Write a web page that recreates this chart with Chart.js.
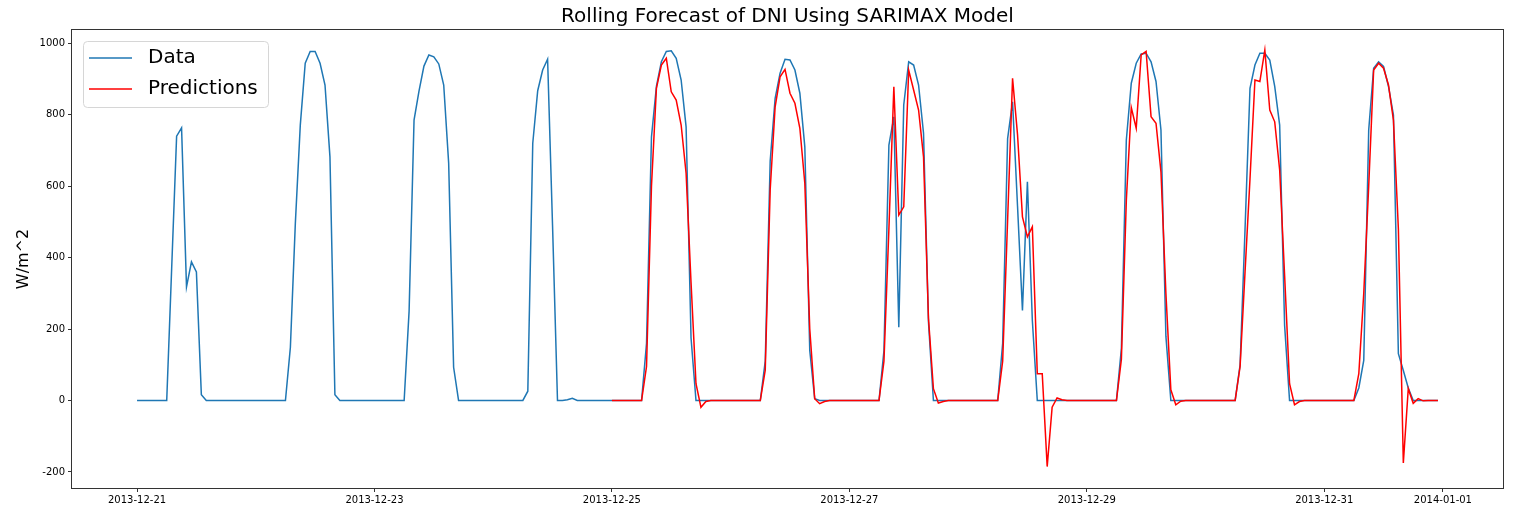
<!DOCTYPE html>
<html>
<head>
<meta charset="utf-8">
<script src="https://cdn.jsdelivr.net/npm/chart.js@4.4.1/dist/chart.umd.min.js"></script>
<style>
  html, body { margin: 0; padding: 0; background: #fff; }
  canvas { display: block; }
</style>
</head>
<body>
<canvas id="dni" width="1514" height="510"></canvas>
<script>
// hourly DNI, 2013-12-21 00:00 .. 2013-12-31 23:00 (one row per day)
const actual = [
  0,0,0,0,0,0,0,370,740,763,318,388,360,16,0,0,0,0,0,0,0,0,0,0,
  0,0,0,0,0,0,0,149,495,770,944,977,977,944,883,682,16,0,0,0,0,0,0,0,
  0,0,0,0,0,0,0,250,785,866,936,967,962,942,883,664,93,0,0,0,0,0,0,0,
  0,0,0,0,0,0,0,26,720,867,925,955,490,0,0,2,6,0,0,0,0,0,0,0,
  0,0,0,0,0,0,0,160,738,879,948,977,979,958,897,766,175,0,0,0,0,0,0,0,
  0,0,0,0,0,0,0,110,670,846,916,955,953,925,860,710,140,5,0,0,0,0,0,0,
  0,0,0,0,0,0,0,140,715,794,205,827,948,939,883,748,220,0,0,0,0,0,0,0,
  0,0,0,0,0,0,0,160,733,836,545,252,612,224,0,0,0,0,0,0,0,0,0,0,
  0,0,0,0,0,0,0,145,729,888,944,970,972,948,893,757,180,0,0,0,0,0,0,0,
  0,0,0,0,0,0,0,100,480,874,939,972,972,953,879,771,210,0,0,0,0,0,0,0,
  0,0,0,0,0,0,0,35,112,757,930,948,935,879,799,131,84,35,0,0,0,0,0,0
];

// rolling predictions from 2013-12-25 00:00
const predStart = 96;
const predicted = [
  0,0,0,0,0,0,0,95,600,874,939,958,864,841,771,636,330,47,-19,-3,0,0,0,0,
  0,0,0,0,0,0,0,85,590,822,906,927,860,832,762,608,200,5,-9,-3,0,0,0,0,
  0,0,0,0,0,0,0,110,480,878,519,542,925,869,813,682,230,33,-7,-3,0,0,0,0,
  0,0,0,0,0,0,0,110,505,902,745,514,458,486,75,75,-185,-19,7,2,0,0,0,0,
  0,0,0,0,0,0,0,115,560,820,762,967,977,794,776,640,300,30,-12,-2,0,0,0,0,
  0,0,0,0,0,0,0,95,360,620,897,893,981,813,780,645,350,47,-12,-3,0,0,0,0,
  0,0,0,0,0,0,0,75,300,600,925,944,930,883,785,480,-175,33,-8,5,-1,0,0,0
];

const xTickHours = [0, 48, 96, 144, 192, 240, 264];
const xTickLabels = ['2013-12-21', '2013-12-23', '2013-12-25', '2013-12-27', '2013-12-29', '2013-12-31', '2014-01-01'];
const yTicks = [-200, 0, 200, 400, 600, 800, 1000];

const FONT = 'DejaVu Sans';

const framePlugin = {
  id: 'frame',
  afterDraw(chart) {
    const c = chart.ctx, a = chart.chartArea;
    c.save();
    c.strokeStyle = '#333';
    c.lineWidth = 1;
    c.strokeRect(Math.round(a.left) - 0.5, Math.round(a.top) - 0.5, Math.round(a.right - a.left) + 1, Math.round(a.bottom - a.top) + 1);

    // title over the plot area
    c.fillStyle = '#000';
    c.font = '20px "' + FONT + '"';
    c.textAlign = 'center';
    c.textBaseline = 'middle';
    c.fillText('Rolling Forecast of DNI Using SARIMAX Model', (a.left + a.right) / 2, 17);

    // legend box inside the axes, upper left
    const bx = a.left + 11, by = a.top + 11, bw = 185, bh = 66;
    c.beginPath();
    c.roundRect(bx + 0.5, by + 0.5, bw, bh, 4);
    c.fillStyle = 'rgba(255,255,255,0.8)';
    c.fill();
    c.strokeStyle = '#d6d6d6';
    c.stroke();
    const rows = [['Data', '#1f77b4'], ['Predictions', '#ff0000']];
    rows.forEach((r, i) => {
      const y = by + 17 + i * 31;
      c.beginPath();
      c.moveTo(bx + 6, y);
      c.lineTo(bx + 49, y);
      c.strokeStyle = r[1];
      c.lineWidth = 1.5;
      c.stroke();
      c.fillStyle = '#000';
      c.textAlign = 'left';
      c.fillText(r[0], bx + 65, y);
    });
    c.restore();
  }
};

new Chart(document.getElementById('dni'), {
  type: 'line',
  data: {
    datasets: [
      {
        label: 'Data',
        data: actual.map((v, i) => ({ x: i, y: v })),
        borderColor: '#1f77b4',
        borderWidth: 1.5,
        pointRadius: 0,
        order: 1
      },
      {
        label: 'Predictions',
        data: predicted.map((v, i) => ({ x: predStart + i, y: v })),
        borderColor: '#ff0000',
        borderWidth: 1.5,
        pointRadius: 0,
        order: 0
      }
    ]
  },
  options: {
    responsive: false,
    animation: false,
    devicePixelRatio: 1,
    layout: { padding: { top: 30, right: 11, left: 0, bottom: 0 } },
    plugins: {
      legend: { display: false },
      title: { display: false },
      tooltip: { enabled: false }
    },
    scales: {
      x: {
        type: 'linear',
        min: -13.15,
        max: 276.15,
        afterBuildTicks: function(scale) {
          scale.ticks = xTickHours.map(v => ({ value: v }));
        },
        afterFit: function(scale) { scale.height = 22; },
        ticks: {
          autoSkip: false,
          maxRotation: 0,
          padding: 2,
          color: '#000',
          font: { family: FONT, size: 10 },
          callback: function(value, index) { return xTickLabels[index]; }
        },
        grid: { drawOnChartArea: false, tickLength: 4, color: '#333' },
        border: { display: false }
      },
      y: {
        type: 'linear',
        min: -245,
        max: 1037,
        afterBuildTicks: function(scale) {
          scale.ticks = yTicks.map(v => ({ value: v }));
        },
        afterFit: function(scale) { scale.width = 72; },
        ticks: {
          padding: 3,
          color: '#000',
          font: { family: FONT, size: 10 },
          callback: function(value) { return value; }
        },
        grid: { drawOnChartArea: false, tickLength: 4, color: '#333' },
        border: { display: false },
        title: {
          display: true,
          text: 'W/m^2',
          color: '#000',
          font: { family: FONT, size: 16 },
          padding: { top: 14, bottom: 0 }
        }
      }
    }
  },
  plugins: [framePlugin]
});
</script>
</body>
</html>
